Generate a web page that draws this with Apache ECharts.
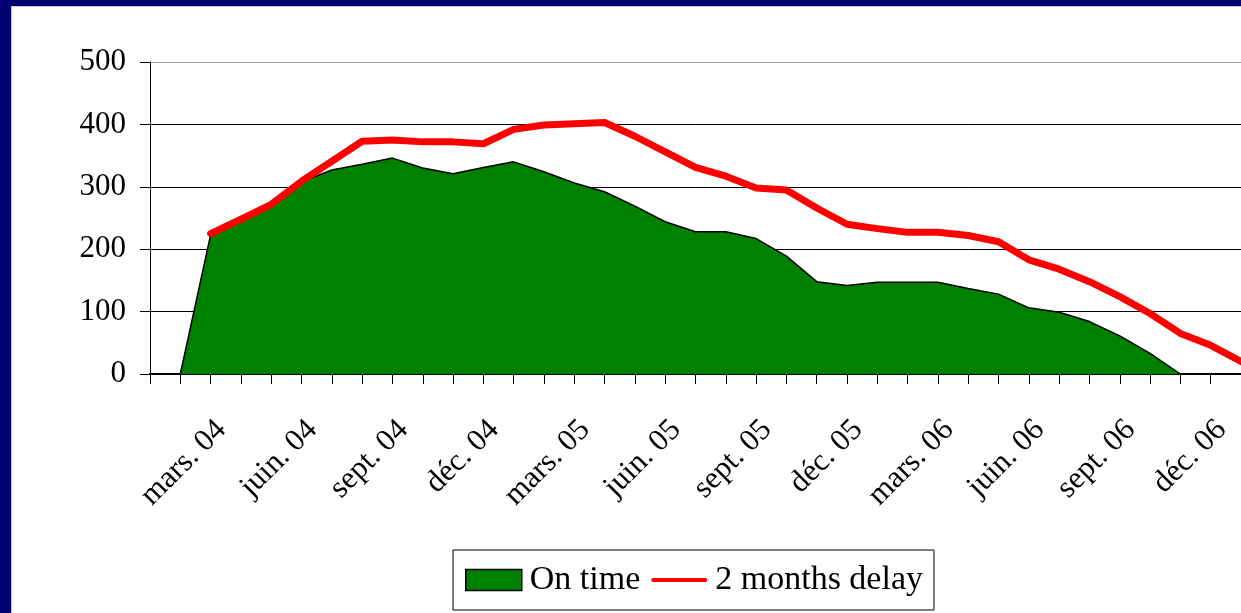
<!DOCTYPE html>
<html>
<head>
<meta charset="utf-8">
<title>On time / 2 months delay</title>
<script src="https://cdn.jsdelivr.net/npm/echarts@6.0.0/dist/echarts.min.js"></script>
<style>
  html, body { margin: 0; padding: 0; }
  body { width: 1241px; height: 613px; background: #000070; position: relative; overflow: hidden; }
  #frame { position: absolute; left: 11px; top: 6px; width: 1230px; height: 607px; background: #c8c8c8; }
  #chart { position: absolute; left: 12px; top: 7px; width: 1229px; height: 606px; background: #fff; }
</style>
</head>
<body>
<div id="frame"></div>
<div id="chart"></div>
<script>
// months jan 04 -> jan 07
const months = [
  'janv. 04', 'févr. 04', 'mars. 04', 'avr. 04', 'mai. 04', 'juin. 04',
  'juil. 04', 'août. 04', 'sept. 04', 'oct. 04', 'nov. 04', 'déc. 04',
  'janv. 05', 'févr. 05', 'mars. 05', 'avr. 05', 'mai. 05', 'juin. 05',
  'juil. 05', 'août. 05', 'sept. 05', 'oct. 05', 'nov. 05', 'déc. 05',
  'janv. 06', 'févr. 06', 'mars. 06', 'avr. 06', 'mai. 06', 'juin. 06',
  'juil. 06', 'août. 06', 'sept. 06', 'oct. 06', 'nov. 06', 'déc. 06',
  'janv. 07'
]

const onTime = [
  0, 0, 223, 248, 271, 308, 327, 336, 346, 330, 321, 331,
  340, 324, 306, 292, 269, 244, 228, 228, 217, 189, 148, 142,
  147, 147, 147, 137, 128, 106, 99, 84, 61, 33, 0, 0,
  0
]

const delay2m = [
  null, null, 225, 248, 272, 309, 341, 373, 375, 372, 372, 369,
  392, 399, 401, 403, 381, 356, 331, 317, 298, 295, 266, 240,
  233, 227, 227, 222, 212, 183, 168, 148, 124, 97, 65, 46,
  20
]

const yTicks = [0, 100, 200, 300, 400, 500]

const font = "'Liberation Serif', 'DejaVu Serif', serif"

const chart = echarts.init(document.getElementById('chart'))

const option = {
  animation: false,
  backgroundColor: '#fff',
  grid: {
    left: 138,
    right: 0,
    top: 55,
    bottom: 239,
    containLabel: false,
    outerBoundsMode: 'none'
  },
  legend: {
    left: 441,
    top: 543,
    orient: 'horizontal',
    borderColor: '#000',
    borderWidth: 1,
    borderRadius: 0,
    padding: [13, 11, 13, 12],
    itemGap: 11,
    itemWidth: 56,
    itemHeight: 21,
    symbolKeepAspect: true,
    textStyle: {
      fontFamily: font,
      fontSize: 34,
      color: '#000',
      padding: [0, 0, 0, 3]
    },
    data: [
      {
        name: 'On time',
        icon: 'rect',
        itemStyle: { color: '#008000', borderColor: '#000', borderWidth: 1.5 }
      },
      {
        // plain red stroke, no marker
        name: '2 months delay',
        icon: 'path://M2,0 H57 A2,2 0 0 1 57,4 H2 A2,2 0 0 1 2,0 Z',
        itemStyle: { color: '#ff0000', borderWidth: 0 }
      }
    ]
  },
  xAxis: {
    type: 'category',
    boundaryGap: false,
    data: months,
    axisLine: { show: true, lineStyle: { color: '#000', width: 2 } },
    axisTick: {
      show: true,
      interval: 0,
      length: 10,
      lineStyle: { color: '#000', width: 1 }
    },
    axisLabel: {
      interval: (index) => index % 3 === 2,
      rotate: 45,
      align: 'right',
      verticalAlign: 'top',
      margin: 40,
      fontFamily: font,
      fontSize: 31,
      color: '#000'
    },
    splitLine: { show: false }
  },
  yAxis: {
    type: 'value',
    min: yTicks[0],
    max: yTicks[yTicks.length - 1],
    interval: 100,
    axisLine: { show: true, lineStyle: { color: '#000', width: 1 } },
    axisTick: { show: true, length: 10, lineStyle: { color: '#000' } },
    axisLabel: {
      margin: 24,
      fontFamily: font,
      fontSize: 31,
      color: '#000'
    },
    splitLine: {
      show: true,
      lineStyle: {
        color: ['#000', '#000', '#000', '#000', '#000', '#999'],
        width: 1
      }
    }
  },
  series: [
    {
      name: 'On time',
      type: 'line',
      data: onTime,
      symbol: 'none',
      z: 2,
      itemStyle: { color: '#008000' },
      lineStyle: { color: '#000', width: 1.5 },
      areaStyle: { color: '#008000', opacity: 1 }
    },
    {
      name: '2 months delay',
      type: 'line',
      data: delay2m,
      symbol: 'none',
      z: 3,
      itemStyle: { color: '#ff0000' },
      lineStyle: { color: '#ff0000', width: 7, join: 'round', cap: 'round' }
    }
  ]
}

chart.setOption(option)
</script>
</body>
</html>
